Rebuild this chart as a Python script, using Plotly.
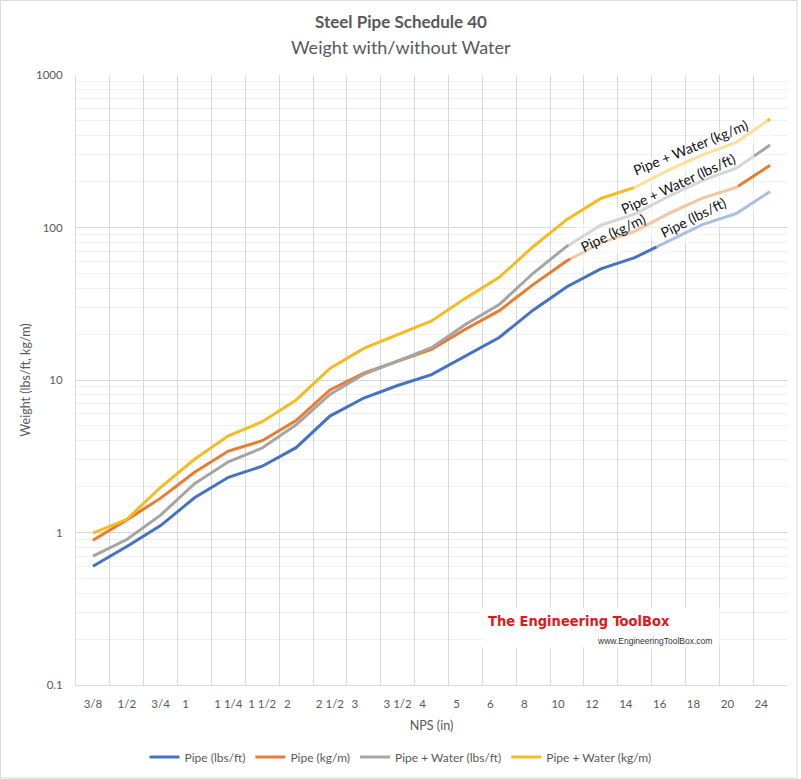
import plotly.graph_objects as go

# ---------------- data ----------------
nps = ["3/8", "1/2", "3/4", "1", "1 1/4", "1 1/2", "2", "2 1/2", "3", "3 1/2", "4",
       "5", "6", "8", "10", "12", "14", "16", "18", "20", "24"]
pipe_lbs_ft = [0.60, 0.81, 1.11, 1.69, 2.30, 2.72, 3.60, 5.80, 7.62, 9.20, 10.85,
               14.4, 19.0, 28.7, 40.9, 53.5, 63.4, 81.5, 104.5, 123.5, 172.0]
pipe_kg_m = [0.89, 1.21, 1.68, 2.48, 3.42, 4.00, 5.42, 8.60, 11.1, 13.3, 15.9,
             21.5, 28.5, 42.2, 60.5, 79.6, 94.3, 123.2, 155.8, 183.2, 256.0]
pipe_water_lbs_ft = [0.70, 0.90, 1.30, 2.09, 2.91, 3.58, 5.08, 8.05, 10.9, 13.3, 16.3,
                     23.1, 31.2, 50.1, 75.5, 103.5, 122.5, 160.0, 203.0, 245.0, 347.0]
pipe_water_kg_m = [0.99, 1.22, 1.98, 3.02, 4.31, 5.33, 7.40, 11.9, 16.1, 19.9, 24.4,
                   34.3, 47.1, 74.8, 113.0, 155.0, 183.0, 238.0, 299.0, 362.0, 515.0]
y_ticks = [0.1, 1, 10, 100, 1000]
y_ticktext = ["0.1", "1", "10", "100", "1000"]

series = [
    ("Pipe (lbs/ft)", pipe_lbs_ft, "#4472C4"),
    ("Pipe (kg/m)", pipe_kg_m, "#E97C30"),
    ("Pipe + Water (lbs/ft)", pipe_water_lbs_ft, "#A5A5A5"),
    ("Pipe + Water (kg/m)", pipe_water_kg_m, "#F4BC22"),
]

FONT = "Lato, 'Open Sans', sans-serif"
TXT = "#595959"

fig = go.Figure()
for name, vals, col in series:
    fig.add_trace(go.Scatter(x=nps, y=vals, name=name, mode="lines",
                             line=dict(color=col, width=3)))

# tick labels (integer sizes carry trailing space like the original)
tick_text = [t if "/" in t else t + "\u00a0" * 6 for t in nps]

minor_vals = [k * 10 ** e for e in range(-1, 3) for k in range(2, 10)]

# geometry helpers (pixel -> paper) for decorations
L, R, T, B = 76, 787, 75, 685
def px(p):
    return (p - L) / (R - L)
def py(p):
    return (B - p) / (B - T)

def note(text, x, y, **kw):
    d = dict(text=text, x=px(x), y=py(y), xref="paper", yref="paper",
             showarrow=False, xanchor="center", yanchor="middle")
    d.update(kw)
    return d

annotations = []
# title
annotations.append(note("<b>Steel Pipe Schedule 40</b>", 400.5, 22,
                        font=dict(size=17, color=TXT, family=FONT)))
annotations.append(note("Weight with/without Water", 400.5, 47,
                        font=dict(size=18, color=TXT, family=FONT)))

# semi-transparent label boxes fading the lines
fades = [
    (700, 153, 148, -22, 26),
    (661, 201, 205, -25, 24),
    (655, 224, 182, -24, 22),
    (714, 218, 128, -25, 22),
]
for cx, cy, w, ang, h in fades:
    annotations.append(note("\u00a0", cx, cy, width=w, height=h, textangle=ang,
                            bgcolor="rgba(255,255,255,0.55)", borderpad=0))

labels = [
    ("Pipe + Water (kg/m)", 690, 147, -22.4),
    ("Pipe + Water (lbs/ft)", 678, 183, -24.9),
    ("Pipe (kg/m)", 613, 232, -25.4),
    ("Pipe (lbs/ft)", 693, 218, -26.6),
]
for t, cx, cy, ang in labels:
    annotations.append(note(t, cx, cy, textangle=ang,
                            font=dict(size=14, color="#111111", family=FONT)))

# watermark
annotations.append(note("\u00a0", 600.5, 627.5, width=237, height=39,
                        bgcolor="white", borderpad=0))
annotations.append(note("<b>The Engineering ToolBox</b>", 579, 621,
                        font=dict(size=14.5, color="#E8141B",
                                  family="'Liberation Sans Narrow', 'DejaVu Sans Condensed', sans-serif")))
annotations.append(note("www.EngineeringToolBox.com", 714, 641, xanchor="right",
                        font=dict(size=8.5, color="#333333",
                                  family="'Liberation Sans', Arial, sans-serif")))

fig.update_layout(
    width=801, height=779,
    margin=dict(l=L, r=801 - R, t=T, b=779 - B),
    paper_bgcolor="white", plot_bgcolor="white",
    font=dict(family=FONT, color=TXT, size=11),
    showlegend=True,
    legend=dict(orientation="h", xref="container", yref="container",
                x=0.5, xanchor="center", y=1 - 757 / 779, yanchor="middle",
                font=dict(size=12, color=TXT), itemwidth=30, tracegroupgap=0),
    annotations=annotations,
    shapes=[dict(type="rect", xref="paper", yref="paper",
                 x0=px(0.5), x1=px(797), y0=py(778), y1=py(0.5),
                 line=dict(color="#d9d9d9", width=1), layer="below")],
)

fig.update_xaxes(
    type="category", tickson="boundaries", ticks="",
    range=[-0.5, len(nps) - 0.5], autorange=False,
    tickvals=nps, ticktext=tick_text, tickangle=0,
    showgrid=True, gridcolor="#d9d9d9", gridwidth=1,
    showline=True, linecolor="#d9d9d9", mirror=False,
    tickfont=dict(size=11.5, color=TXT), ticklabelstandoff=8,
    title=dict(text="NPS (in)", font=dict(size=12.5, color=TXT), standoff=12),
    zeroline=False, automargin=False,
)
fig.update_yaxes(
    type="log", range=[-1, 3], autorange=False,
    tickvals=y_ticks, ticktext=y_ticktext, ticks="",
    showgrid=True, gridcolor="#d9d9d9", gridwidth=1,
    showline=True, linecolor="#d9d9d9",
    minor=dict(tickvals=minor_vals, showgrid=True, gridcolor="#f0f0f0", ticks=""),
    tickfont=dict(size=11.5, color=TXT), ticklabelstandoff=10,
    title=dict(text="Weight (lbs/ft, kg/m)", font=dict(size=12.5, color=TXT), standoff=2),
    zeroline=False, automargin=False,
)

fig.write_html("out.html")
